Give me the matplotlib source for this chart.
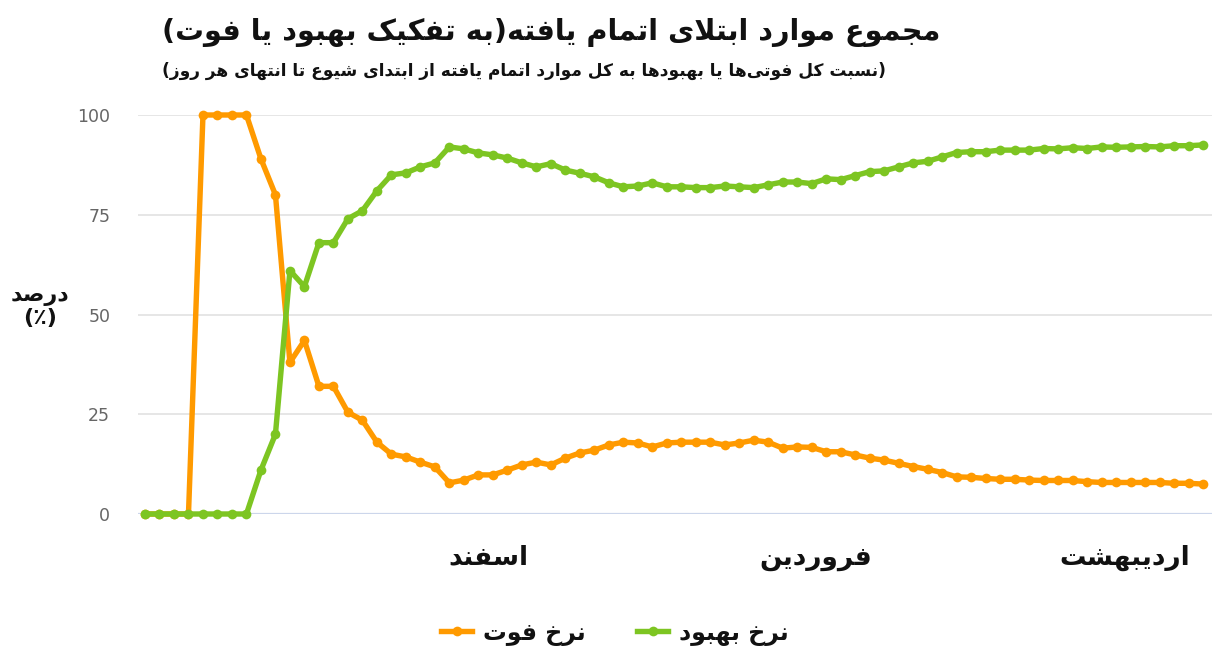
import matplotlib
matplotlib.use("Agg")
import matplotlib.pyplot as plt
from matplotlib.lines import Line2D
import numpy as np

# ---------------- data ----------------
recovery_rate = [0, 0, 0, 0, 0, 0, 0, 0, 11, 20,
                 61, 57, 68, 68, 74, 76, 81, 85, 85.5, 87,
                 88, 92, 91.5, 90.5, 90, 89.2, 88, 87, 87.8, 86.2,
                 85.4, 84.5, 83, 82, 82.2, 83, 82, 82, 81.8, 81.8,
                 82.2, 82, 81.8, 82.5, 83.2, 83.2, 82.8, 84, 83.8, 84.8,
                 85.8, 86, 87, 88, 88.4, 89.5, 90.6, 90.8, 90.8, 91.2,
                 91.2, 91.2, 91.6, 91.5, 91.8, 91.6, 92, 91.9, 92, 92.1,
                 92, 92.3, 92.3, 92.5]
death_rate = [0, 0, 0, 0, 100, 100, 100, 100, 89, 80,
              38, 43.5, 32, 32, 25.5, 23.5, 18, 15, 14.3, 13,
              11.8, 7.8, 8.5, 9.8, 9.8, 11, 12.3, 13, 12.3, 14,
              15.3, 16, 17.3, 18, 17.8, 16.8, 17.8, 18, 18, 18,
              17.3, 17.8, 18.5, 18, 16.5, 16.8, 16.7, 15.6, 15.6, 14.8,
              14, 13.5, 12.7, 11.9, 11.2, 10.4, 9.3, 9.2, 8.9, 8.7,
              8.7, 8.5, 8.4, 8.4, 8.4, 8.1, 7.9, 7.9, 7.9, 7.9,
              7.9, 7.7, 7.7, 7.5]
month_labels = ["اسفند", "فروردین", "اردیبهشت"]
y_ticks = [0, 25, 50, 75, 100]
series_names = ["نرخ فوت", "نرخ بهبود"]
title_text = "مجموع موارد ابتلای اتمام یافته(به تفکیک بهبود یا فوت)"
subtitle_text = "(نسبت کل فوتی\u200cها یا بهبودها به کل موارد اتمام یافته از ابتدای شیوع تا انتهای هر روز)"
ylabel_text = "درصد\n(٪)"

# layout (not data)
month_tick_pos = [23.7, 46.3, 67.6]

# ------------- minimal Arabic/Persian shaping -------------
FORMS = {
    '\u0627': ('\uFE8D', '\uFE8E', None, None),
    '\u0622': ('\uFE81', '\uFE82', None, None),
    '\u0628': ('\uFE8F', '\uFE90', '\uFE91', '\uFE92'),
    '\u062A': ('\uFE95', '\uFE96', '\uFE97', '\uFE98'),
    '\u062B': ('\uFE99', '\uFE9A', '\uFE9B', '\uFE9C'),
    '\u062C': ('\uFE9D', '\uFE9E', '\uFE9F', '\uFEA0'),
    '\u062D': ('\uFEA1', '\uFEA2', '\uFEA3', '\uFEA4'),
    '\u062E': ('\uFEA5', '\uFEA6', '\uFEA7', '\uFEA8'),
    '\u062F': ('\uFEA9', '\uFEAA', None, None),
    '\u0630': ('\uFEAB', '\uFEAC', None, None),
    '\u0631': ('\uFEAD', '\uFEAE', None, None),
    '\u0632': ('\uFEAF', '\uFEB0', None, None),
    '\u0698': ('\uFB8A', '\uFB8B', None, None),
    '\u0633': ('\uFEB1', '\uFEB2', '\uFEB3', '\uFEB4'),
    '\u0634': ('\uFEB5', '\uFEB6', '\uFEB7', '\uFEB8'),
    '\u0635': ('\uFEB9', '\uFEBA', '\uFEBB', '\uFEBC'),
    '\u0636': ('\uFEBD', '\uFEBE', '\uFEBF', '\uFEC0'),
    '\u0637': ('\uFEC1', '\uFEC2', '\uFEC3', '\uFEC4'),
    '\u0638': ('\uFEC5', '\uFEC6', '\uFEC7', '\uFEC8'),
    '\u0639': ('\uFEC9', '\uFECA', '\uFECB', '\uFECC'),
    '\u063A': ('\uFECD', '\uFECE', '\uFECF', '\uFED0'),
    '\u0641': ('\uFED1', '\uFED2', '\uFED3', '\uFED4'),
    '\u0642': ('\uFED5', '\uFED6', '\uFED7', '\uFED8'),
    '\u0643': ('\uFED9', '\uFEDA', '\uFEDB', '\uFEDC'),
    '\u06A9': ('\uFB8E', '\uFB8F', '\uFB90', '\uFB91'),
    '\u06AF': ('\uFB92', '\uFB93', '\uFB94', '\uFB95'),
    '\u0644': ('\uFEDD', '\uFEDE', '\uFEDF', '\uFEE0'),
    '\u0645': ('\uFEE1', '\uFEE2', '\uFEE3', '\uFEE4'),
    '\u0646': ('\uFEE5', '\uFEE6', '\uFEE7', '\uFEE8'),
    '\u0647': ('\uFEE9', '\uFEEA', '\uFEEB', '\uFEEC'),
    '\u0648': ('\uFEED', '\uFEEE', None, None),
    '\u064A': ('\uFEF1', '\uFEF2', '\uFEF3', '\uFEF4'),
    '\u06CC': ('\uFBFC', '\uFBFD', '\uFBFE', '\uFBFF'),
    '\u067E': ('\uFB56', '\uFB57', '\uFB58', '\uFB59'),
    '\u0686': ('\uFB7A', '\uFB7B', '\uFB7C', '\uFB7D'),
}
MIRROR = {'(': ')', ')': '(', '[': ']', ']': '['}


def dual(c):
    return c in FORMS and FORMS[c][2] is not None


def shape_line(s):
    chars = list(s)
    out = []
    i = 0
    n = len(chars)
    while i < n:
        c = chars[i]
        prev = chars[i - 1] if i > 0 else None
        if c not in FORMS:
            if c != '\u200c':
                out.append(MIRROR.get(c, c))
            i += 1
            continue
        jp = prev is not None and dual(prev)
        if c == '\u0644' and i + 1 < n and chars[i + 1] == '\u0627':
            out.append('\uFEFC' if jp else '\uFEFB')
            i += 2
            continue
        nxt = chars[i + 1] if i + 1 < n else None
        jn = dual(c) and nxt is not None and nxt in FORMS
        iso, fin, ini, med = FORMS[c]
        if jp and jn:
            g = med
        elif jp:
            g = fin
        elif jn:
            g = ini
        else:
            g = iso
        out.append(g)
        i += 1
    return ''.join(reversed(out))


def rtl(s):
    return '\n'.join(shape_line(l) for l in s.split('\n'))


# ---------------- figure ----------------
plt.rcParams['font.family'] = ['DejaVu Sans']
W, H = 1220, 660
fig = plt.figure(figsize=(W / 100, H / 100), dpi=100)
fig.patch.set_facecolor('white')

ax_l, ax_r, ax_t, ax_b = 138, 1212, 115, 514
ax = fig.add_axes([ax_l / W, 1 - ax_b / H, (ax_r - ax_l) / W, (ax_b - ax_t) / H])

x = np.arange(len(death_rate))
orange = '#ff9a00'
green = '#7dc522'
LW, MS = 3.9, 7.0
ax.plot(x, death_rate, color=orange, lw=LW, marker='o', ms=MS,
        markeredgewidth=0, clip_on=False, zorder=3)
ax.plot(x, recovery_rate, color=green, lw=LW, marker='o', ms=MS,
        markeredgewidth=0, clip_on=False, zorder=4)

step = (1203 - 145) / (len(x) - 1)
ax.set_xlim(-(145 - ax_l) / step, (len(x) - 1) + (ax_r - 1203) / step)
ax.set_ylim(0, 100)

for s in ax.spines.values():
    s.set_visible(False)
ax.set_yticks(y_ticks)
ax.yaxis.grid(True, color='#e6e6e6', lw=1.4)
ax.axhline(0, color='#ccd6eb', lw=1.6, zorder=1)
ax.set_axisbelow(True)
ax.tick_params(axis='y', length=0, pad=20, labelsize=12.5, labelcolor='#666666')
ax.set_xticks(month_tick_pos)
ax.set_xticklabels([rtl(m) for m in month_labels], fontsize=19, fontweight='bold',
                   color='#111111')
ax.tick_params(axis='x', length=0, pad=22)

fig.text(40 / W, 1 - 307 / H, rtl(ylabel_text), ha='center', va='center',
         fontsize=16, fontweight='bold', color='#111111', linespacing=1.15)

renderer = fig.canvas.get_renderer()


def fitted(txt, x0, x1, yc, size, **kw):
    t = fig.text(x0 / W, 1 - yc / H, txt, ha='left', va='center', fontsize=size, **kw)
    w = t.get_window_extent(renderer).width
    t.set_fontsize(size * (x1 - x0) / w)
    return t


fitted(rtl(title_text), 162, 942, 32, 24, fontweight='bold', color='#111111')
fitted(rtl(subtitle_text), 162, 885, 71, 13, fontweight='bold', color='#111111')

handles = [Line2D([], [], color=orange, lw=LW, marker='o', ms=MS, markeredgewidth=0),
           Line2D([], [], color=green, lw=LW, marker='o', ms=MS, markeredgewidth=0)]
leg = fig.legend(handles, [rtl(n) for n in series_names], loc='center',
                 bbox_to_anchor=(615 / W, 1 - 633 / H), ncol=2, frameon=False,
                 prop={'size': 17, 'weight': 'bold'}, handlelength=1.3,
                 handletextpad=0.45, columnspacing=2.2)
for t in leg.get_texts():
    t.set_color('#111111')

fig.savefig('out.png', dpi=100, facecolor='white')
